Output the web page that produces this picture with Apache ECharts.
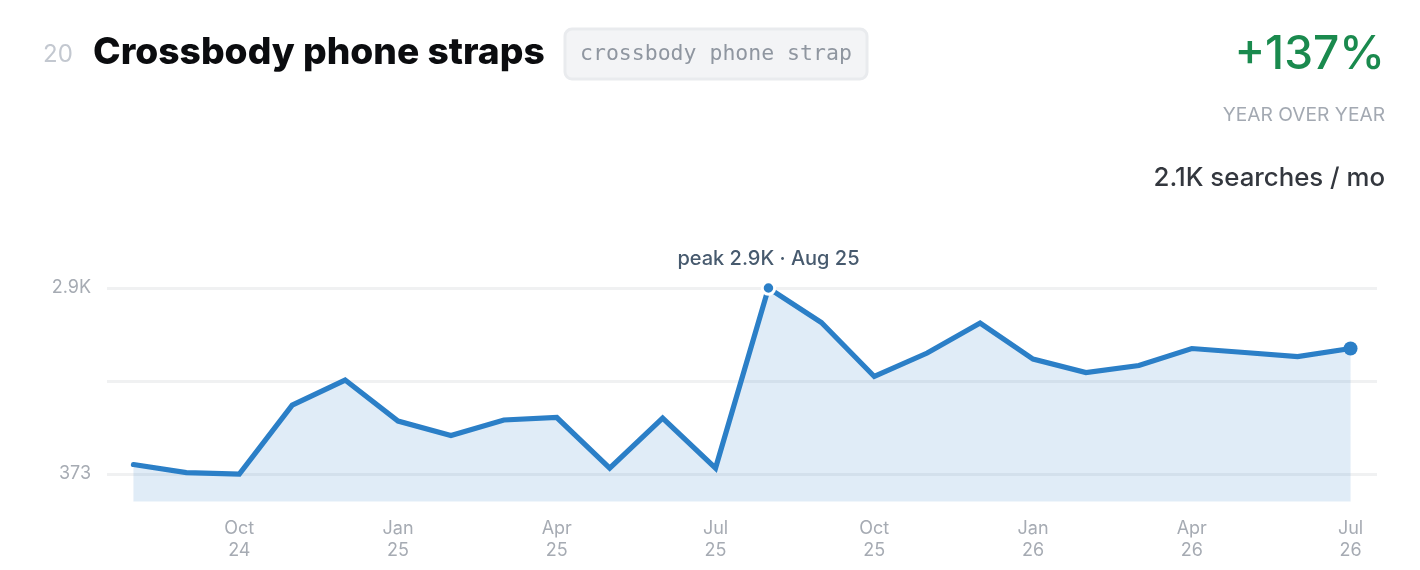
<!DOCTYPE html>
<html><head><meta charset="utf-8">
<style>html,body{margin:0;padding:0;background:#fff}#c{width:1420px;height:570px}</style>
<script src="https://cdn.jsdelivr.net/npm/echarts@6/dist/echarts.min.js"></script>
</head><body><div id="c"></div>
<script>
const months = ['Aug 24','Sep 24','Oct 24','Nov 24','Dec 24','Jan 25','Feb 25','Mar 25','Apr 25','May 25','Jun 25','Jul 25','Aug 25','Sep 25','Oct 25','Nov 25','Dec 25','Jan 26','Feb 26','Mar 26','Apr 26','May 26','Jun 26','Jul 26'];
const searches = [502,393,373,1310,1650,1093,896,1107,1141,454,1134,454,2900,2431,1698,2017,2424,1935,1752,1847,2078,2024,1969,2078];
const yGridValues = [373,1636.5,2900];
const yLabelValues = [373,2900];
const yLabelTexts = ['373','2.9K'];
const peakIndex = 12, lastIndex = 23;
const sans = 'Inter';
const chart = echarts.init(document.getElementById('c'));
const blue = '#2b7fc7';
chart.setOption({
  animation:false,
  grid:{left:107,right:43,top:288,bottom:68.5,containLabel:false},
  xAxis:{type:'category',data:months,boundaryGap:true,
    axisLine:{show:false},axisTick:{show:false},splitLine:{show:false},
    axisLabel:{margin:16,interval:(i)=>i%3===2,color:'#a6abb3',fontFamily:sans,fontSize:18,lineHeight:22,
      formatter:(v)=>v.replace(' ','\n')}},
  yAxis:{type:'value',min:0,max:2900,
    axisLine:{show:false},axisTick:{show:false,customValues:yGridValues},
    splitLine:{show:true,lineStyle:{color:'#f0f1f2',width:3}},
    axisLabel:{margin:16,customValues:yLabelValues,color:'#a6abb3',fontFamily:sans,fontSize:18,
      formatter:(v)=>yLabelTexts[yLabelValues.indexOf(v)]}},
  series:[{type:'line',clip:false,symbol:'none',showSymbol:true,
    lineStyle:{color:blue,width:5.2,cap:'round',join:'miter'},
    areaStyle:{color:'#2b7fc7',opacity:0.145},
    itemStyle:{color:blue},
    data:searches.map((v,i)=>{
      if(i===peakIndex) return {value:v,symbol:'circle',symbolSize:12.5,
        itemStyle:{color:blue,borderColor:'#fff',borderWidth:3},
        label:{show:true,position:'top',distance:11,formatter:'peak 2.9K · Aug 25',color:'#475a6e',fontFamily:sans,fontSize:20,fontWeight:500}};
      if(i===lastIndex) return {value:v,symbol:'circle',symbolSize:14,itemStyle:{color:blue}};
      return v;
    })
  }],
  graphic:[
    {type:'text',left:43,top:43,style:{text:'20',fontFamily:sans,fontSize:24,fill:'#c3c8d0'}},
    {type:'text',left:93,top:34,style:{text:'Crossbody phone straps',fontFamily:sans,fontWeight:800,fontSize:37.2,fill:'#0b0c0f'}},
    {type:'rect',shape:{x:565,y:29,width:302,height:50,r:7},style:{fill:'#f3f4f6',stroke:'#e9ebee',lineWidth:3}},
    {type:'text',left:580,top:43,style:{text:'crossbody phone strap',fontFamily:'DejaVu Sans Mono',fontSize:21.5,fill:'#8f96a0'}},
    {type:'text',right:35,top:32,style:{text:'+137%',fontFamily:sans,fontSize:46,fontWeight:500,fill:'#1a8a4e',textAlign:'right'}},
    {type:'text',right:35,top:106,style:{text:'YEAR OVER YEAR',fontFamily:sans,fontSize:19.2,fill:'#a3a9b2',textAlign:'right'}},
    {type:'text',right:35,top:165,style:{text:'2.1K searches / mo',fontFamily:sans,fontSize:25.8,fontWeight:500,fill:'#33373e',textAlign:'right'}}
  ]
});
</script></body></html>
